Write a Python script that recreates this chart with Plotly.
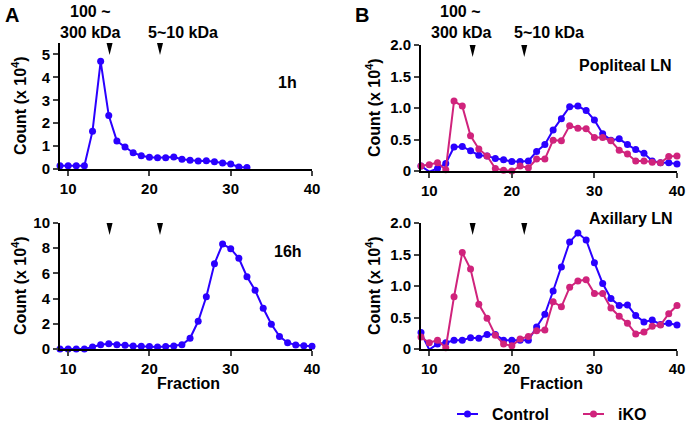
import plotly.graph_objects as go

W, H = 688, 422
BLUE = "#2a00ff"
PINK = "#d0237c"
FONT = "Liberation Sans, Arial, sans-serif"

# ---- data ----
frac_1h = list(range(9, 33))
count_1h = [0.14, 0.14, 0.14, 0.14, 1.65, 4.70, 2.33, 1.22, 0.96, 0.71, 0.58, 0.51,
            0.49, 0.49, 0.52, 0.43, 0.38, 0.35, 0.36, 0.32, 0.26, 0.22, 0.09, 0.07]

frac_16h = list(range(9, 41))
count_16h = [0.0, 0.0, 0.0, 0.0, 0.16, 0.34, 0.42, 0.34, 0.29, 0.24, 0.21, 0.19,
             0.16, 0.19, 0.24, 0.34, 0.85, 2.2, 4.15, 6.77, 8.33, 7.96, 7.2, 5.74,
             4.66, 3.23, 1.96, 1.0, 0.5, 0.32, 0.26, 0.21]

frac_B = list(range(9, 41))
pop_control = [0.08, -0.01, 0.04, 0.12, 0.38, 0.39, 0.32, 0.25, 0.24, 0.20, 0.18, 0.15,
               0.15, 0.16, 0.31, 0.42, 0.65, 0.83, 1.02, 1.03, 0.96, 0.81, 0.59, 0.49,
               0.51, 0.42, 0.34, 0.28, 0.16, 0.13, 0.13, 0.11]
pop_iko = [0.08, 0.10, 0.13, 0.02, 1.11, 1.03, 0.56, 0.35, 0.24, 0.04, 0.01, 0.0,
           0.08, 0.05, 0.19, 0.19, 0.49, 0.48, 0.72, 0.68, 0.67, 0.53, 0.53, 0.48,
           0.33, 0.27, 0.16, 0.16, 0.14, 0.13, 0.23, 0.24]
axi_control = [0.26, -0.01, 0.08, 0.10, 0.14, 0.14, 0.18, 0.17, 0.23, 0.23, 0.14, 0.14,
               0.14, 0.14, 0.35, 0.55, 0.92, 1.30, 1.70, 1.84, 1.73, 1.37, 1.04, 0.80,
               0.69, 0.70, 0.53, 0.43, 0.46, 0.39, 0.41, 0.38]
axi_iko = [0.19, 0.10, 0.14, 0.02, 0.83, 1.53, 1.27, 0.71, 0.49, 0.22, 0.08, 0.05,
           0.16, 0.20, 0.29, 0.30, 0.75, 0.67, 0.98, 1.08, 1.10, 0.88, 0.88, 0.65,
           0.52, 0.41, 0.24, 0.27, 0.36, 0.38, 0.56, 0.69]

size_markers_A = [15.1, 21.3]
size_markers_B = [15.25, 21.5]

series_names = ["Control", "iKO"]
series_colors = [BLUE, PINK]

# ---- layout helpers (pixel boxes) ----
def px_x(x):
    return x / W

def px_y(y):
    return 1 - y / H

panels = {
    # name: (left, right, top, bottom) in px
    "A1": (60, 312, 43, 169),
    "A2": (60, 312, 223, 349),
    "B1": (421, 677, 45, 171),
    "B2": (421, 677, 223, 349),
}

fig = go.Figure()

def line_trace(x, y, color, xa, ya, name=None):
    return go.Scatter(
        x=x, y=y, mode="lines+markers", xaxis=xa, yaxis=ya,
        line=dict(color=color, width=2),
        marker=dict(color=color, size=7),
        cliponaxis=False, name=name, showlegend=False,
    )

fig.add_trace(line_trace(frac_1h, count_1h, BLUE, "x", "y", "1h"))
fig.add_trace(line_trace(frac_16h, count_16h, BLUE, "x2", "y2", "16h"))
fig.add_trace(line_trace(frac_B, pop_control, BLUE, "x3", "y3", "Control"))
fig.add_trace(line_trace(frac_B, pop_iko, PINK, "x3", "y3", "iKO"))
fig.add_trace(line_trace(frac_B, axi_control, BLUE, "x4", "y4", "Control"))
fig.add_trace(line_trace(frac_B, axi_iko, PINK, "x4", "y4", "iKO"))

tickfont = dict(family=FONT, size=15, color="black", weight="bold")

def xaxis(key):
    l, r, t, b = panels[key]
    return dict(
        domain=[px_x(l), px_x(r)], range=[9, 40],
        tickvals=[10, 20, 30, 40], ticks="outside", ticklen=5, tickwidth=2,
        showline=True, linewidth=2, linecolor="black", showgrid=False, zeroline=False,
        tickfont=tickfont, fixedrange=True, automargin=False,
    )

def yaxis(key, rng, tv, tt):
    l, r, t, b = panels[key]
    return dict(
        domain=[px_y(b), px_y(t)], range=rng,
        tickvals=tv, ticktext=tt, ticks="outside", ticklen=5, tickwidth=2,
        showline=True, linewidth=2, linecolor="black", showgrid=False, zeroline=False,
        tickfont=tickfont, fixedrange=True, automargin=False,
    )

fig.update_layout(
    width=W, height=H, margin=dict(l=0, r=0, t=0, b=0), autosize=False,
    paper_bgcolor="white", plot_bgcolor="white", showlegend=False,
    font=dict(family=FONT, color="black"),
    xaxis=dict(xaxis("A1"), anchor="y"),
    yaxis=dict(yaxis("A1", [0, 5.5], [0, 1, 2, 3, 4, 5], ["0", "1", "2", "3", "4", "5"]), anchor="x"),
    xaxis2=dict(xaxis("A2"), anchor="y2"),
    yaxis2=dict(yaxis("A2", [0, 10], [0, 2, 4, 6, 8, 10], ["0", "2", "4", "6", "8", "10"]), anchor="x2"),
    xaxis3=dict(xaxis("B1"), anchor="y3"),
    yaxis3=dict(yaxis("B1", [0, 2], [0, 0.5, 1, 1.5, 2], ["0", "0.5", "1.0", "1.5", "2.0"]), anchor="x3"),
    xaxis4=dict(xaxis("B2"), anchor="y4"),
    yaxis4=dict(yaxis("B2", [0, 2], [0, 0.5, 1, 1.5, 2], ["0", "0.5", "1.0", "1.5", "2.0"]), anchor="x4"),
)

# arrowhead markers
shapes = []
for xs, xr, yr, ytop in [
    (size_markers_A, "x", "y", 5.5),
    (size_markers_A, "x2", "y2", 10),
    (size_markers_B, "x3", "y3", 2),
    (size_markers_B, "x4", "y4", 2),
]:
    for xv in xs:
        shapes.append(dict(
            type="path", xref=xr, yref=yr, xsizemode="pixel", ysizemode="pixel",
            xanchor=xv, yanchor=ytop, path="M -3.5,2 L 3.5,2 L 0,-12 Z",
            fillcolor="black", line=dict(width=0),
        ))

ann = []
def text(x, y, s, size=16, bold=True, xanchor="center", angle=0):
    ann.append(dict(
        x=px_x(x), y=px_y(y), xref="paper", yref="paper", text=s,
        showarrow=False, xanchor=xanchor, yanchor="middle", textangle=angle,
        font=dict(family=FONT, size=size, color="black", weight="bold" if bold else "normal"),
    ))

# custom legend (line + dot + label)
legend_pos = [(457, 414), (583, 414)]
for (lx, ly), name, col in zip(legend_pos, series_names, series_colors):
    shapes.append(dict(type="line", xref="paper", yref="paper",
                       x0=px_x(lx), x1=px_x(lx + 21), y0=px_y(ly), y1=px_y(ly),
                       line=dict(color=col, width=2)))
    shapes.append(dict(type="circle", xref="paper", yref="paper", xsizemode="pixel", ysizemode="pixel",
                       xanchor=px_x(lx + 10.5), yanchor=px_y(ly), x0=-3.5, x1=3.5, y0=-3.5, y1=3.5,
                       fillcolor=col, line=dict(width=0)))
    text(lx + 33, ly, name, xanchor="left")

fig.update_layout(shapes=shapes)

# axis titles
ytitle = "Count (x 10<sup>4</sup>)"
for key, tx in [("A1", 19), ("A2", 19), ("B1", 373), ("B2", 373)]:
    l, r, t, b = panels[key]
    text(tx, (t + b) / 2, ytitle, size=16, angle=-90)
for key in ["A2", "B2"]:
    l, r, t, b = panels[key]
    text((l + r) / 2 + 2, 383, "Fraction", size=16)

text(12, 15, "A", size=20)
text(362, 15, "B", size=20)
text(90, 12, "100 ~")
text(90, 32, "300 kDa")
text(183, 32, "5~10 kDa")
text(460, 12, "100 ~")
text(461, 32, "300 kDa")
text(549, 32, "5~10 kDa")
text(287, 82, "1h")
text(288, 252, "16h")
text(625, 66, "Popliteal LN")
text(631, 218, "Axillary LN")
fig.update_layout(annotations=ann)

fig.write_html(
    "out.html",
    config=dict(displayModeBar=False, staticPlot=True),
    post_script="document.body.style.margin='0';document.body.style.overflow='hidden';",
)
